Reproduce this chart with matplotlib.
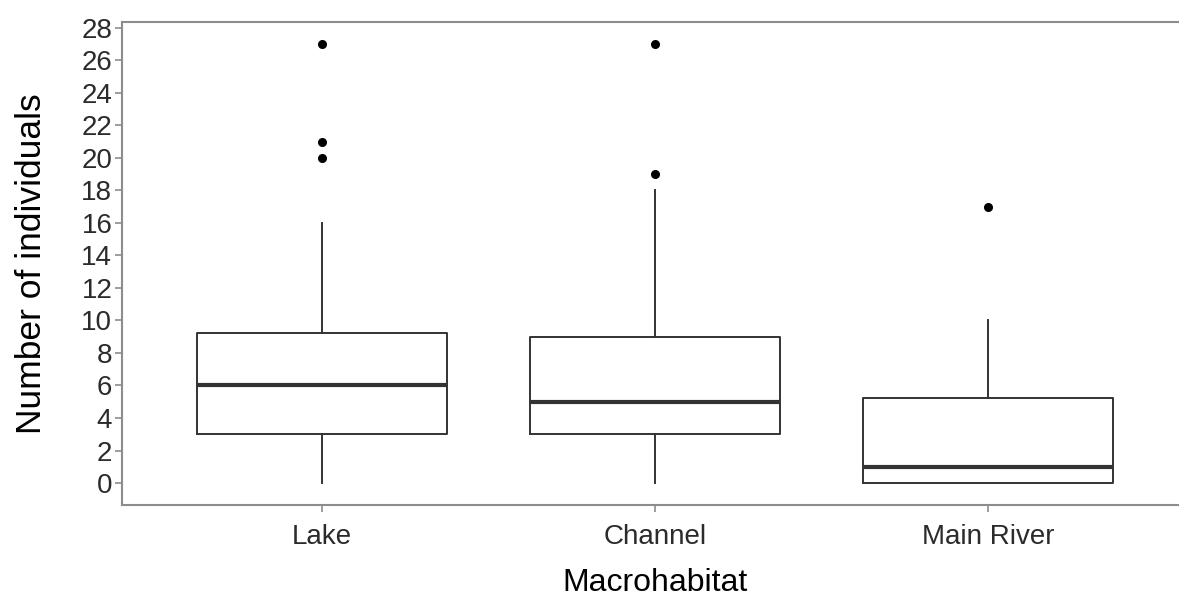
import matplotlib.pyplot as plt

plt.rcParams['font.family'] = ['Liberation Sans', 'DejaVu Sans']

habitats = ['Lake', 'Channel', 'Main River']
whisker_low = [0, 0, 0]
q1 = [3, 3, 0]
medians = [6, 5, 1]
q3 = [9.25, 9, 5.25]
whisker_high = [16, 18, 10]
outliers = [[20, 21, 27], [19, 27], [17]]

stats = []
for i, name in enumerate(habitats):
    stats.append(dict(label=name, whislo=whisker_low[i], q1=q1[i], med=medians[i],
                      q3=q3[i], whishi=whisker_high[i], fliers=outliers[i]))

fig = plt.figure(figsize=(11.79, 6.01), dpi=100)
ax = fig.add_axes([122/1179, 1 - 505/601, (1188 - 122)/1179, (505 - 22)/601])

box_col = '#333333'
ax.bxp(stats, positions=[1, 2, 3], widths=0.75, showcaps=False,
       boxprops=dict(color=box_col, linewidth=1.4),
       whiskerprops=dict(color=box_col, linewidth=1.4),
       medianprops=dict(color=box_col, linewidth=3),
       flierprops=dict(marker='o', markerfacecolor='black', markeredgecolor='black',
                       markersize=5.5))

ax.set_xlim(0.4, 3.6)
ax.set_ylim(-1.35, 28.35)
ax.set_yticks(range(0, 29, 2))
ax.set_xticks([1, 2, 3])
ax.set_xticklabels(habitats)

for s in ax.spines.values():
    s.set_color('#8c8c8c')
    s.set_linewidth(1.5)

ax.tick_params(axis='both', colors='#8c8c8c', length=5, width=1.2,
               labelsize=20, labelcolor='#2b2b2b')
ax.tick_params(axis='y', pad=2)
ax.tick_params(axis='x', pad=8.5)
ax.set_xlabel('Macrohabitat', fontsize=23, labelpad=13)
ax.set_ylabel('Number of individuals', fontsize=25.5, labelpad=24)

fig.savefig('out.png', dpi=100)
